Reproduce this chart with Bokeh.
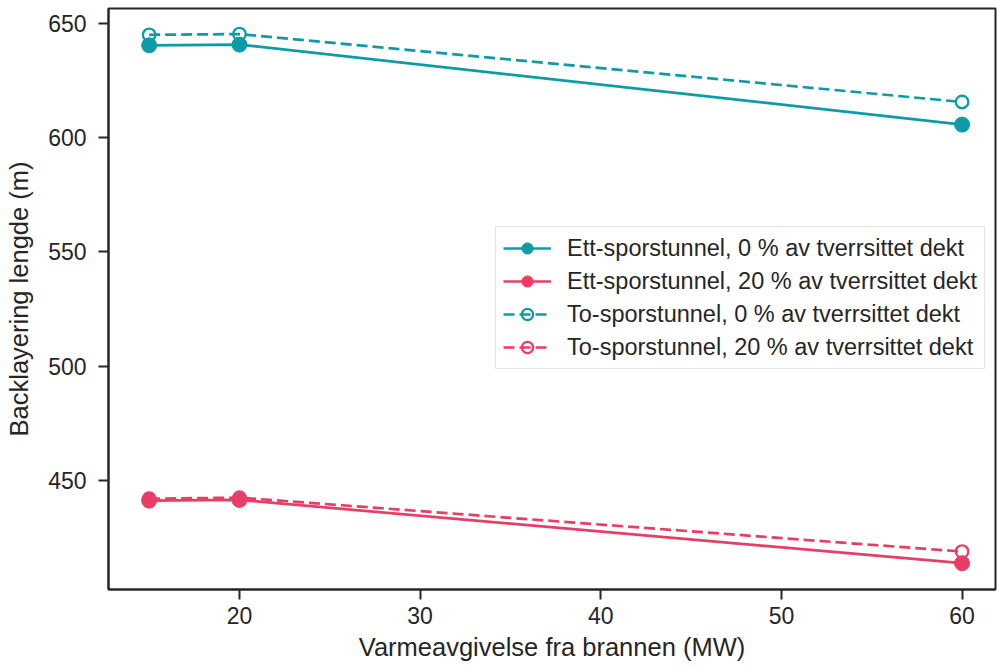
from bokeh.plotting import figure
from bokeh.models import Range1d, Legend, LegendItem, FixedTicker
from bokeh.embed import file_html
from bokeh.resources import INLINE

# Data
x_mw = [15, 20, 60]
ett_0 = [640.4, 640.7, 605.7]
ett_20 = [441.2, 441.5, 413.8]
to_0 = [645.0, 645.3, 615.6]
to_20 = [442.0, 442.5, 418.9]
labels = [
    "Ett-sporstunnel, 0 % av tverrsittet dekt",
    "Ett-sporstunnel, 20 % av tverrsittet dekt",
    "To-sporstunnel, 0 % av tverrsittet dekt",
    "To-sporstunnel, 20 % av tverrsittet dekt",
]
x_ticks = [20, 30, 40, 50, 60]
y_ticks = [450, 500, 550, 600, 650]

TEAL = "#0d9ca6"
PINK = "#e83e65"
DARK = "#262626"
FONT = "Liberation Sans"

p = figure(width=997, height=668, output_backend="svg", toolbar_location=None,
           x_range=Range1d(12.75, 61.85), y_range=Range1d(402.3, 656.5),
           min_border_left=108, min_border_right=2, min_border_top=8, min_border_bottom=79)

p.background_fill_color = "white"
p.border_fill_color = "white"
p.outline_line_color = DARK
p.outline_line_width = 2
p.xgrid.visible = False
p.ygrid.visible = False

for ax in (p.xaxis[0], p.yaxis[0]):
    ax.axis_line_color = DARK
    ax.axis_line_width = 2
    ax.major_tick_line_color = DARK
    ax.major_tick_line_width = 2
    ax.major_tick_out = 10
    ax.major_tick_in = 0
    ax.minor_tick_line_color = None
    ax.major_label_text_font = FONT
    ax.major_label_text_font_size = "23px"
    ax.major_label_text_color = DARK
    ax.axis_label_text_font = FONT
    ax.axis_label_text_font_size = "25.5px"
    ax.axis_label_text_font_style = "normal"
    ax.axis_label_text_color = DARK

p.xaxis.ticker = FixedTicker(ticks=x_ticks)
p.yaxis.ticker = FixedTicker(ticks=y_ticks)
p.xaxis.axis_label = "Varmeavgivelse fra brannen (MW)"
p.yaxis.axis_label = "Backlayering lengde (m)"
p.xaxis.major_label_standoff = 7
p.yaxis.major_label_standoff = 12
p.xaxis.axis_label_standoff = 6
p.yaxis.axis_label_standoff = 12

items = []
series = [
    (ett_0, TEAL, "solid", True),
    (ett_20, PINK, "solid", True),
    (to_0, TEAL, "dashed", False),
    (to_20, PINK, "dashed", False),
]
for (ys, col, dash, filled), lab in zip(series, labels):
    dash_val = "solid" if dash == "solid" else "11 5"
    ln = p.line(x_mw, ys, line_color=col, line_width=2.7, line_dash=dash_val)
    if filled:
        sc = p.scatter(x_mw, ys, marker="circle", size=15, fill_color=col, line_color=col, line_width=1)
    else:
        sc = p.scatter(x_mw, ys, marker="circle", size=12.5, fill_alpha=0, line_color=col, line_width=2.3)
    items.append(LegendItem(label=lab, renderers=[ln, sc]))

legend = Legend(items=items, location=(387, 220))
legend.label_text_font = FONT
legend.label_text_font_size = "23.5px"
legend.label_text_color = DARK
legend.glyph_width = 48
legend.glyph_height = 28
legend.label_height = 28
legend.label_standoff = 16
legend.spacing = 5
legend.padding = 7
legend.margin = 0
legend.border_line_color = "#cccccc"
legend.border_line_width = 1
legend.background_fill_color = "white"
legend.background_fill_alpha = 1
p.add_layout(legend, "center")

open("out.html", "w").write(file_html(p, INLINE))
